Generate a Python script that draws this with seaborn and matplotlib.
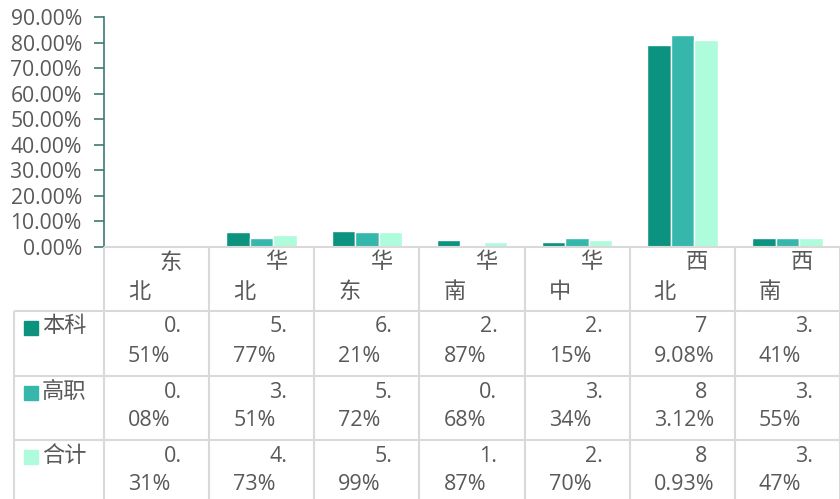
import numpy as np
import pandas as pd
import matplotlib
matplotlib.use('Agg')
import matplotlib.pyplot as plt
import seaborn as sns

# == DATA ==
regions = ['东北', '华北', '华东', '华南', '华中', '西北', '西南']
series = ['本科', '高职', '合计']
benke = [0.51, 5.77, 6.21, 2.87, 2.15, 79.08, 3.41]
gaozhi = [0.08, 3.51, 5.72, 0.68, 3.34, 83.12, 3.55]
heji = [0.31, 4.73, 5.99, 1.87, 2.70, 80.93, 3.47]
yticks = [0, 10, 20, 30, 40, 50, 60, 70, 80, 90]

colors = ['#0B9380', '#35B8AB', '#AFFCDC']
text_color = '#595959'
grid_color = '#D9D9D9'

df = pd.DataFrame({
    'region': regions * 3,
    'series': [s for s in series for _ in regions],
    'value': benke + gaozhi + heji,
})

sns.set_theme(style='white')
plt.rcParams['font.family'] = ['Open Sans', 'Noto Sans CJK SC', 'DejaVu Sans']

W, H = 840, 499
fig = plt.figure(figsize=(W / 100, H / 100), dpi=100)

# plot area in pixel terms
x0, x1 = 104, 840
y_top, y_base = 17, 247
ax = fig.add_axes([x0 / W, 1 - y_base / H, (x1 - x0) / W, (y_base - y_top) / H])
sns.barplot(data=df, x='region', y='value', hue='series', palette=colors,
            width=0.67, saturation=1, legend=False, ax=ax)
ax.set_xlim(-0.5, len(regions) - 0.5)
ax.set_ylim(0, 90)
ax.set_yticks(yticks)
ax.set_yticklabels([f'{t:.2f}%' for t in yticks], color=text_color, fontsize=15.2)
ax.set_xticks([])
ax.set_xlabel('')
ax.set_ylabel('')
for s in ['top', 'right', 'bottom']:
    ax.spines[s].set_visible(False)
ax.spines['left'].set_color('#3D7A74')
ax.spines['left'].set_linewidth(1.2)
ax.tick_params(axis='y', direction='out', length=7, width=1.2, color='#3D7A74', pad=9, left=True)

# == DATA TABLE ==
tab = fig.add_axes([0, 0, 1, 1], zorder=5)
tab.set_xlim(0, W)
tab.set_ylim(H, 0)
tab.axis('off')
tab.patch.set_alpha(0)

col_w = (x1 - x0) / len(regions)
col_edges = [x0 + i * col_w for i in range(len(regions) + 1)]
row_edges = [247, 311, 376, 440, 499]
leg_left = 14
lw = 1.5

tab.hlines(row_edges[0], x0, x1, color=grid_color, lw=lw)
for ry in row_edges[1:4]:
    tab.hlines(ry, leg_left, x1, color=grid_color, lw=lw)
for cx in col_edges:
    tab.vlines(cx, row_edges[0], H, color=grid_color, lw=lw)
tab.vlines(leg_left, row_edges[1], H, color=grid_color, lw=lw)

fs_num = 15.5
fs_cjk = 16

def cell_text(cx, ry, l1, l2, fs):
    tab.text(cx + 78, ry + 16, l1, ha='right', va='center', fontsize=fs, color=text_color)
    tab.text(cx + 24, ry + 45, l2, ha='left', va='center', fontsize=fs, color=text_color)

def split_pct(v):
    s = f'{v:.2f}%'
    if len(s) <= 5:
        return s[:2], s[2:]
    return s[:1], s[1:]

for i, name in enumerate(regions):
    cell_text(col_edges[i], row_edges[0], name[0], name[1], fs_cjk)

for r, (name, vals) in enumerate(zip(series, [benke, gaozhi, heji])):
    ry = row_edges[r + 1]
    tab.add_patch(plt.Rectangle((24, ry + 10), 14, 14, color=colors[r]))
    tab.text(42, ry + 16, name, ha='left', va='center', fontsize=fs_cjk, color=text_color)
    for i, v in enumerate(vals):
        a, b = split_pct(v)
        cell_text(col_edges[i], ry, a, b, fs_num)

fig.savefig('out.png', dpi=100)
